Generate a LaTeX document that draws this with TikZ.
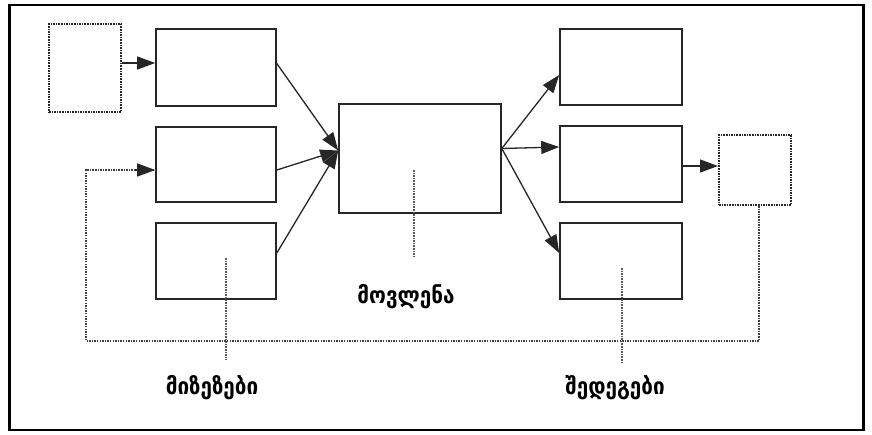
\documentclass[tikz,border=0pt]{standalone}
\usepackage{fontspec}
\newfontfamily\geo{DejaVu Sans Condensed}
\usetikzlibrary{arrows.meta,calc}
\begin{document}
\begin{tikzpicture}[x=1pt,y=-1pt,
 box/.style={draw=black!85, line width=1.6pt, inner sep=0pt, fill=white},
 dbox/.style={draw=black!85, line width=2pt, dash pattern=on 1.6pt off 1pt, inner sep=0pt},
 tip/.style={-{Triangle[length=18pt,width=13pt]}},
 arr/.style={draw=black!85, line width=1.3pt, tip},
 fb/.style={draw=black!75, line width=1.6pt, dash pattern=on 1.5pt off 1.1pt},
 lead/.style={draw=black!65, line width=1.6pt, dash pattern=on 1.5pt off 1.1pt},
 lab/.style={font=\geo\bfseries\fontsize{23}{26}\selectfont, inner sep=0pt}
]
\useasboundingbox (0,0) rectangle (872,434);
\node[draw=black, line width=2.6pt, minimum width=854pt, minimum height=425pt, inner sep=0pt] (frame) at (436.5,217.5) {};

\node[dbox, minimum width=72pt, minimum height=88pt] (ld) at (85,68) {};
\node[box, minimum width=120pt, minimum height=77pt] (a1) at (216,67.5) {};
\node[box, minimum width=120pt, minimum height=75pt] (a2) at (216,164.5) {};
\node[box, minimum width=120pt, minimum height=76pt] (a3) at (216,261) {};
\node[box, minimum width=162pt, minimum height=109pt] (c) at (420,158.5) {};
\node[box, minimum width=122pt, minimum height=76pt] (b1) at (621,67) {};
\node[box, minimum width=122pt, minimum height=76pt] (b2) at (621,164) {};
\node[box, minimum width=122pt, minimum height=76pt] (b3) at (621,261) {};
\node[dbox, minimum width=72pt, minimum height=70pt] (rd) at (755,170) {};

\node[lab] (lc) at (406,297) {მოვლენა};
\node[lab] (ll) at (212,388) {მიზეზები};
\node[lab] (lr) at (615,388) {შედეგები};

% arrows
\draw[arr] ($(ld.east)+(0,-5)$) -- ($(a1.west)+(0,-4.5)$);
\coordinate (cin) at ($(c.west)+(0,-8)$);
\draw[arr] ($(a1.east)+(0,-4)$) -- (cin);
\draw[arr] ($(a2.east)+(0,5.5)$) -- (cin);
\draw[arr] ($(a3.east)+(0,-8)$) -- (cin);
\coordinate (cout) at ($(c.east)+(0,-10)$);
\draw[arr] (cout) -- ($(b1.west)+(0,8)$);
\draw[arr] (cout) -- ($(b2.west)+(0,-17)$);
\draw[arr] (cout) -- ($(b3.west)+(0,-8)$);
\draw[arr] ($(b2.east)+(0,2)$) -- ($(rd.west)+(0,-4)$);

% feedback
\coordinate (fbc) at (86,341);
\coordinate (a2in) at ($(a2.west)+(0,5.5)$);
\draw[fb] ($(rd.south)+(4,0)$) |- (fbc) |- (a2in);
\draw[arr] ($(a2in)+(-20,0)$) -- (a2in);

% leaders
\coordinate (lc1) at (414,170);
\coordinate (lc2) at (414,257);
\draw[lead] (lc1) -- (lc2);
\coordinate (ll1) at (226,258);
\coordinate (ll2) at (226,360);
\draw[lead] (ll1) -- (ll2);
\coordinate (lr1) at (622,268);
\coordinate (lr2) at (622,363);
\draw[lead] (lr1) -- (lr2);
\end{tikzpicture}
\end{document}
